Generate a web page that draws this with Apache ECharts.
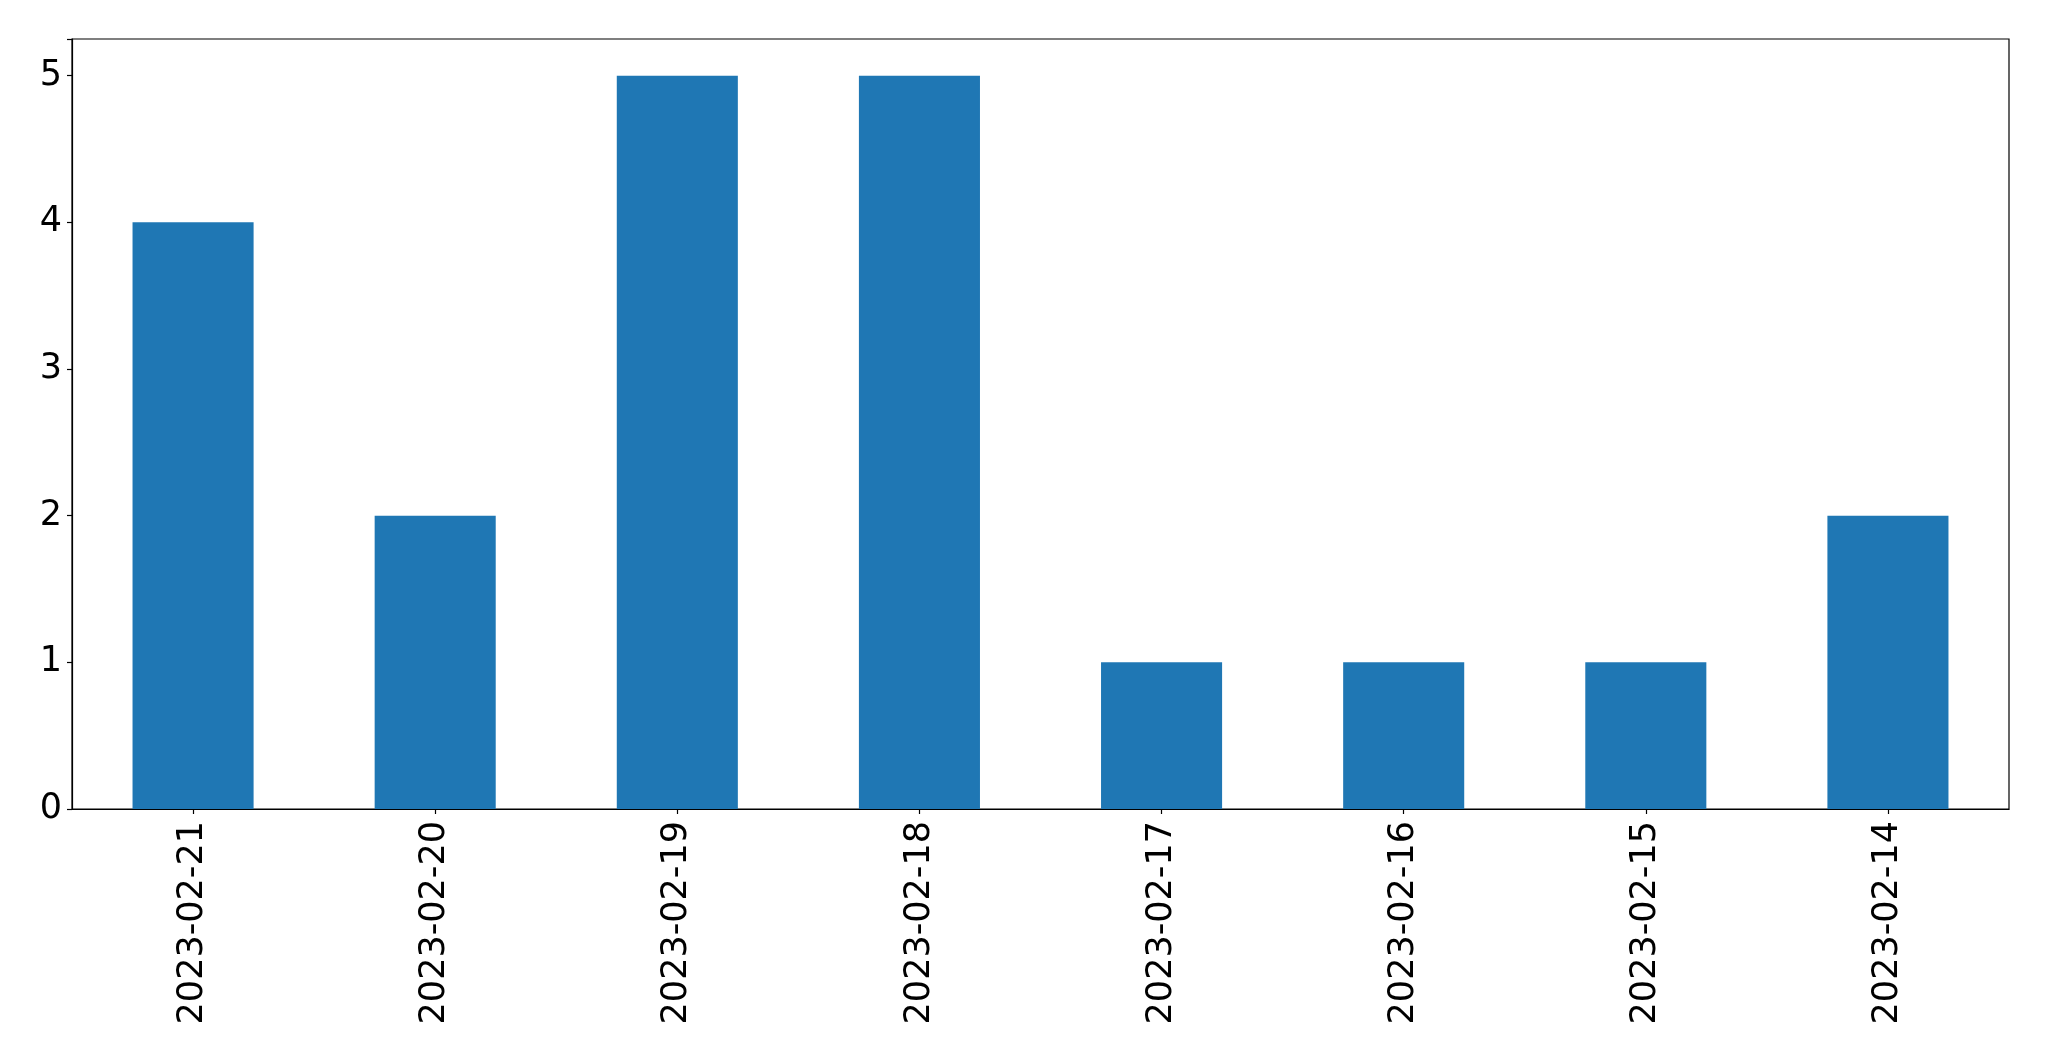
<!DOCTYPE html>
<html>
<head>
<meta charset="utf-8">
<script src="https://cdn.jsdelivr.net/npm/echarts@6/dist/echarts.min.js"></script>
<style>html,body{margin:0;padding:0;background:#fff;}#c{width:2049px;height:1061px;}</style>
</head>
<body>
<div id="c"></div>
<script>
const categories = ["2023-02-21","2023-02-20","2023-02-19","2023-02-18","2023-02-17","2023-02-16","2023-02-15","2023-02-14"];
const values = [4, 2, 5, 5, 1, 1, 1, 2];
const yTicks = [0, 1, 2, 3, 4, 5];

const chart = echarts.init(document.getElementById('c'), null, {renderer: 'canvas'});
chart.setOption({
  animation: false,
  backgroundColor: '#ffffff',
  grid: {left: 72, top: 39, right: 40, bottom: 252, show: true, borderColor: '#000', borderWidth: 1.2, backgroundColor: 'transparent'},
  xAxis: {
    type: 'category',
    data: categories,
    boundaryGap: true,
    axisLine: {show: true, lineStyle: {color: '#000', width: 1.2}},
    axisTick: {show: true, alignWithLabel: true, inside: false, length: 5, lineStyle: {color: '#000', width: 1.2}},
    axisLabel: {rotate: 90, fontSize: 35, fontFamily: 'DejaVu Sans', color: '#000', margin: 12, interval: 0}
  },
  yAxis: {
    type: 'value',
    min: 0,
    max: 5.25,
    interval: 1,
    axisLine: {show: true, lineStyle: {color: '#000', width: 1.2}},
    axisTick: {show: true, inside: false, length: 5, lineStyle: {color: '#000', width: 1.2}},
    splitLine: {show: false},
    axisLabel: {fontSize: 35, fontFamily: 'DejaVu Sans', color: '#000', margin: 10, padding: [6, 0, 0, 0],
      formatter: function (v) { return yTicks.indexOf(v) >= 0 ? String(v) : ''; }}
  },
  series: [{
    type: 'bar',
    data: values,
    barWidth: '50%',
    itemStyle: {color: '#1f77b4'}
  }]
});
</script>
</body>
</html>
